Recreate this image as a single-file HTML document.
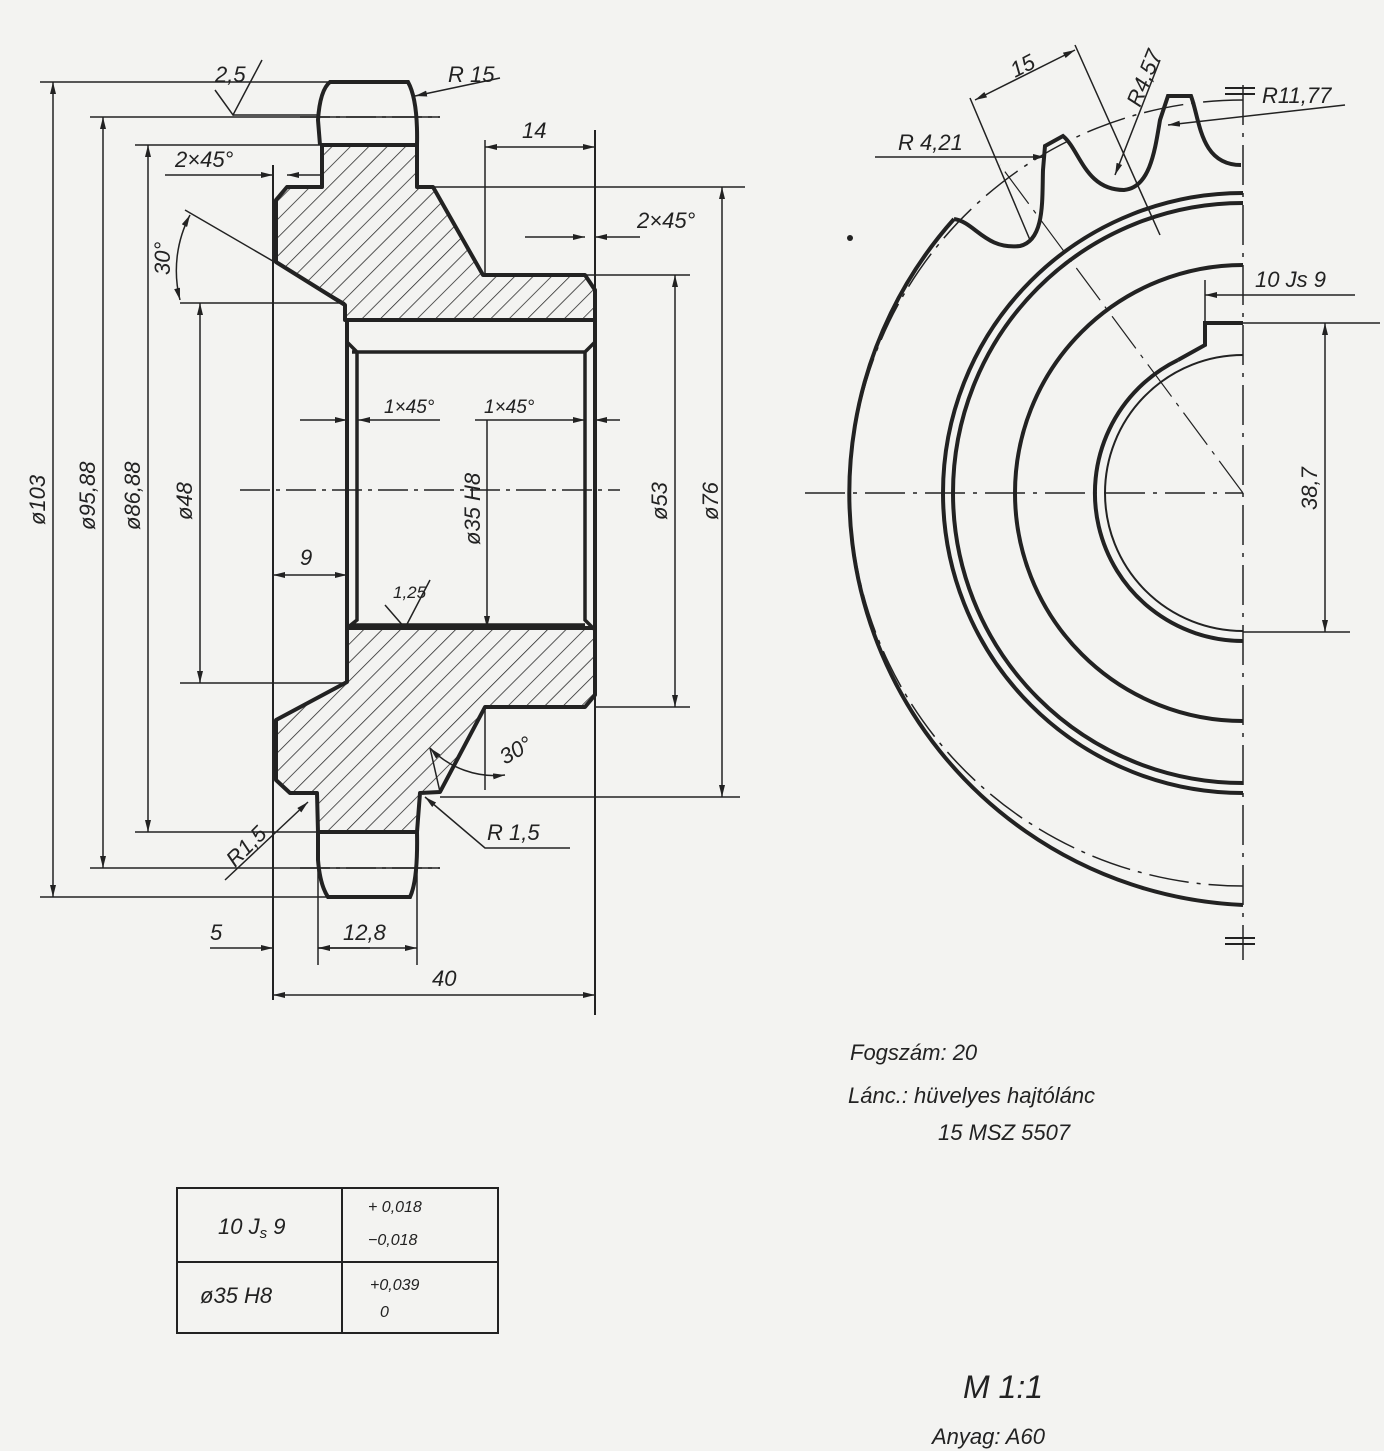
<!DOCTYPE html>
<html><head><meta charset="utf-8"><style>
html,body{margin:0;padding:0;background:#f3f3f1}
svg{display:block}
text{font-family:"Liberation Sans",sans-serif;font-style:italic;fill:#222}
</style></head><body>
<svg width="1384" height="1451" viewBox="0 0 1384 1451" xmlns="http://www.w3.org/2000/svg">
<defs>
<pattern id="h" width="13" height="13" patternUnits="userSpaceOnUse" patternTransform="rotate(45)">
<line x1="0" y1="0" x2="0" y2="13" stroke="#222" stroke-width="1.5"/>
</pattern>
<marker id="a" viewBox="0 0 12 6" refX="12" refY="3" markerWidth="12" markerHeight="6" orient="auto-start-reverse" markerUnits="userSpaceOnUse">
<path d="M0,0 L12,3 L0,6 z" fill="#222"/></marker>
</defs>
<rect width="1384" height="1451" fill="#f3f3f1"/>

<!-- LEFT VIEW -->
<g stroke="#222" fill="none">
<!-- hatched sections -->
<path d="M287,187 L322,187 L322,145 L417,145 L417,187 L433,187 L483,275 L585,275 L595,290 L595,320 L345,320 L345,305 L276,262 L276,200 Z" fill="url(#h)" stroke-width="4" stroke-linejoin="round"/>
<path d="M347,628 L595,628 L595,695 L585,707 L485,707 L440,792 L420,793 L417,832 L318,832 L317,793 L290,793 L276,780 L276,720 L347,682 Z" fill="url(#h)" stroke-width="4" stroke-linejoin="round"/>
<!-- teeth -->
<path d="M320,145 L318,120 Q320,90 330,82 L408,82 Q418,100 417,145" stroke-width="4"/>
<path d="M318,832 L318,860 Q320,885 328,897 L410,897 Q418,880 417,832" stroke-width="4"/>
<!-- bore -->
<path d="M347,320 L347,628 M595,320 L595,628" stroke-width="4"/>
<path d="M352,352 L585,352 M352,625 L585,625 M347,342 L357,352 L357,620 L347,628 M595,342 L585,352 L585,620 L595,630" stroke-width="3.5"/>
<!-- left face -->
<line x1="273" y1="165" x2="273" y2="1000" stroke-width="2"/>
<line x1="595" y1="130" x2="595" y2="1015" stroke-width="2"/>
<line x1="318" y1="832" x2="318" y2="965" stroke-width="1.5"/>
<line x1="417" y1="832" x2="417" y2="965" stroke-width="1.5"/>
<line x1="485" y1="140" x2="485" y2="275" stroke-width="1.5"/>
<!-- extension lines -->
<g stroke-width="1.5">
<path d="M40,82 H330 M90,117 H440 M135,145 H320 M433,187 H745 M585,275 H690 M180,303 H345 M180,683 H345 M595,707 H690 M440,797 H740 M135,832 H320 M90,868 H440 M40,897 H330"/>
<path d="M240,490 H620" stroke-dasharray="30,6,4,6"/>
<path d="M300,117 H440 M300,868 H440" stroke-dasharray="30,6,4,6"/>
</g>
<!-- vertical dims -->
<g stroke-width="1.5" marker-start="url(#a)" marker-end="url(#a)">
<line x1="53" y1="82" x2="53" y2="897"/>
<line x1="103" y1="117" x2="103" y2="868"/>
<line x1="148" y1="145" x2="148" y2="832"/>
<line x1="200" y1="303" x2="200" y2="683"/>
<line x1="675" y1="275" x2="675" y2="707"/>
<line x1="722" y1="187" x2="722" y2="797"/>
<line x1="1325" y1="323" x2="1325" y2="632"/>
<line x1="485" y1="147" x2="595" y2="147"/>
<line x1="273" y1="995" x2="595" y2="995"/>
<line x1="318" y1="948" x2="417" y2="948"/>
<line x1="273" y1="575" x2="347" y2="575"/>
</g>
<g stroke-width="1.5" marker-end="url(#a)">
<line x1="487" y1="420" x2="487" y2="628"/>
<line x1="210" y1="948" x2="273" y2="948"/>
<line x1="370" y1="948" x2="318" y2="948" marker-end="none"/>
<line x1="165" y1="175" x2="273" y2="175"/>
<line x1="320" y1="175" x2="287" y2="175"/>
<line x1="525" y1="237" x2="585" y2="237"/>
<line x1="640" y1="237" x2="595" y2="237"/>
<line x1="300" y1="420" x2="347" y2="420"/>
<line x1="440" y1="420" x2="358" y2="420"/>
<line x1="475" y1="420" x2="585" y2="420"/>
<line x1="620" y1="420" x2="595" y2="420"/>
<line x1="500" y1="78" x2="415" y2="96"/>
<line x1="225" y1="880" x2="308" y2="802"/>
<path d="M570,848 H485 L425,797"/>
<line x1="875" y1="157" x2="1045" y2="157"/>
<line x1="1345" y1="105" x2="1168" y2="125"/>
<line x1="1355" y1="295" x2="1205" y2="295"/>
<line x1="1160" y1="60" x2="1115" y2="175"/>
</g>
<line x1="975" y1="100" x2="1075" y2="50" stroke-width="1.5" marker-start="url(#a)" marker-end="url(#a)"/>
<!-- misc lines -->
<g stroke-width="1.5">
<path d="M185,210 L345,303"/>
<path d="M180,300 A120,120 0 0 1 190,215" marker-start="url(#a)" marker-end="url(#a)"/>
<path d="M430,748 A90,90 0 0 0 505,775" marker-start="url(#a)" marker-end="url(#a)"/>
<path d="M215,90 L233,115 L262,60 M233,115 H320"/>
<path d="M385,605 L405,628 L430,580"/>
<path d="M485,707 V790 M440,792 L430,748"/>
</g>
</g>

<!-- RIGHT VIEW -->
<g stroke="#222" fill="none">
<path d="M954,219 A412,412 0 0 0 1243,905" stroke-width="4"/>
<path d="M954,219 C975,222 985,250 1020,246 C1045,240 1042,200 1043,170 L1045,146 L1063,136 C1080,150 1085,190 1124,190 C1150,188 1155,150 1160,120 L1168,96 L1191,96 C1200,120 1200,165 1241,165" stroke-width="4"/>
<path d="M1243,100 A393,393 0 0 0 1243,886" stroke-width="1.5" stroke-dasharray="40,8,4,8"/>
<path d="M1243,193 A300,300 0 0 0 1243,793" stroke-width="4"/>
<path d="M1243,203 A290,290 0 0 0 1243,783" stroke-width="4"/>
<path d="M1243,265 A228,228 0 0 0 1243,721" stroke-width="4"/>
<path d="M1178,360 A148,148 0 0 0 1243,641" stroke-width="4"/>
<path d="M1243,355 A138,138 0 0 0 1243,631" stroke-width="2"/>
<path d="M1243,323 H1205 V345 L1178,360" stroke-width="4"/>
<path d="M1243,85 V960" stroke-width="1.5" stroke-dasharray="40,8,4,8"/>
<path d="M805,493 H1243" stroke-width="1.5" stroke-dasharray="40,8,4,8"/>
<path d="M1225,88 H1255 M1225,94 H1255 M1225,938 H1255 M1225,944 H1255" stroke-width="2"/>
<path d="M1243,493 L1000,165" stroke-width="1.2" stroke-dasharray="40,8,4,8"/>
<path d="M970,98 L1030,240 M1075,45 L1160,235 M1205,280 V323 M1205,323 H1380 M1243,632 H1350" stroke-width="1.5"/>
</g>
<circle cx="850" cy="238" r="3" fill="#222"/>

<!-- TEXT -->
<g font-size="22">
<text x="215" y="82">2,5</text>
<text x="448" y="82">R 15</text>
<text x="175" y="167">2×45°</text>
<text x="522" y="138">14</text>
<text x="637" y="228">2×45°</text>
<text x="384" y="413" font-size="19">1×45°</text>
<text x="484" y="413" font-size="19">1×45°</text>
<text x="300" y="565">9</text>
<text x="393" y="598" font-size="17">1,25</text>
<text x="505" y="765" transform="rotate(-30 505 765)">30°</text>
<text x="487" y="840">R 1,5</text>
<text x="235" y="868" transform="rotate(-45 235 868)">R1,5</text>
<text x="210" y="940">5</text>
<text x="343" y="940">12,8</text>
<text x="432" y="986">40</text>
<text transform="translate(170,275) rotate(-90)">30°</text>
<text transform="translate(45,525) rotate(-90)">ø103</text>
<text transform="translate(95,530) rotate(-90)">ø95,88</text>
<text transform="translate(140,530) rotate(-90)">ø86,88</text>
<text transform="translate(192,520) rotate(-90)">ø48</text>
<text transform="translate(480,545) rotate(-90)">ø35 H8</text>
<text transform="translate(667,520) rotate(-90)">ø53</text>
<text transform="translate(718,520) rotate(-90)">ø76</text>
<text transform="translate(1317,510) rotate(-90)">38,7</text>
<text transform="translate(1015,78) rotate(-27)">15</text>
<text transform="translate(1140,108) rotate(-68)">R4,57</text>
<text x="898" y="150">R 4,21</text>
<text x="1262" y="103">R11,77</text>
<text x="1255" y="287">10 Js 9</text>
<text x="850" y="1060">Fogszám:  20</text>
<text x="848" y="1103">Lánc.: hüvelyes  hajtólánc</text>
<text x="938" y="1140">15  MSZ 5507</text>
<text x="963" y="1398" font-size="32">M 1:1</text>
<text x="932" y="1444">Anyag:  A60</text>
</g>

<!-- TABLE -->
<g stroke="#222" stroke-width="2" fill="none">
<rect x="177" y="1188" width="321" height="145"/>
<line x1="342" y1="1188" x2="342" y2="1333"/>
<line x1="177" y1="1262" x2="498" y2="1262"/>
</g>
<g>
<text x="218" y="1234" font-size="22">10 J<tspan font-size="15" dy="4">s</tspan><tspan dy="-4"> 9</tspan></text>
<text x="368" y="1212" font-size="16">+ 0,018</text>
<text x="368" y="1245" font-size="16">−0,018</text>
<text x="200" y="1303" font-size="22">ø35 H8</text>
<text x="370" y="1290" font-size="16">+0,039</text>
<text x="380" y="1317" font-size="16">0</text>
</g>
</svg>
</body></html>
